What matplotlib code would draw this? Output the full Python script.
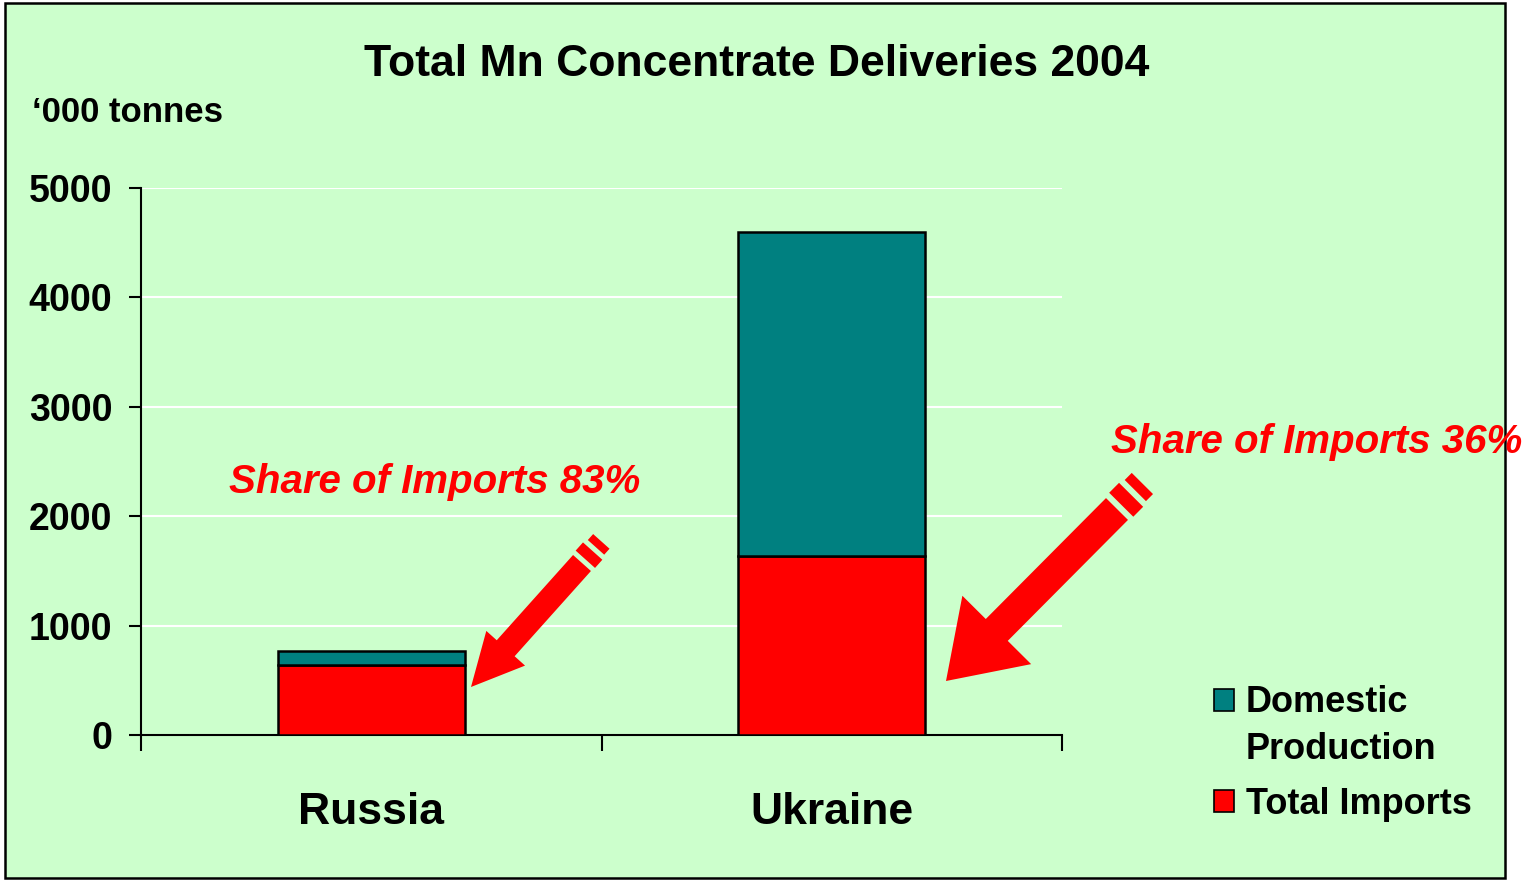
# Total Mn concentrate deliveries 2004, stacked bars with fat arrows
import numpy as np
import matplotlib.pyplot as plt
from matplotlib.patches import Polygon, Rectangle

countries = ['Russia', 'Ukraine']
imports = [640, 1640]
domestic = [130, 2960]
import_share = ['83%', '36%']
yticks = [0, 1000, 2000, 3000, 4000, 5000]

bg = '#CCFFCC'
teal = '#008080'
red = '#FF0000'
W, H = 1527, 880

plt.rcParams['font.family'] = ['Liberation Sans', 'DejaVu Sans']
plt.rcParams['font.weight'] = 'bold'

fig = plt.figure(figsize=(W / 100, H / 100), dpi=100, facecolor='white')

def fx(px):
  return px / W

def fy(py):
  return 1 - py / H

# chart area background + border
fig.patches.append(Rectangle((fx(5), fy(878)), fx(1505) - fx(5), fy(3) - fy(878),
                             transform=fig.transFigure, facecolor=bg, edgecolor='black',
                             linewidth=1.8, zorder=-5))

ax = fig.add_axes([fx(141), fy(735), fx(1062) - fx(141), fy(188) - fy(735)])
ax.set_zorder(1)
ax.patch.set_alpha(0)

x = np.arange(len(countries))
bw = 0.406
ax.bar(x, imports, bw, color=red, edgecolor='black', linewidth=1.8, zorder=3)
ax.bar(x, domestic, bw, bottom=imports, color=teal, edgecolor='black', linewidth=1.8, zorder=3)

ax.set_xlim(-0.5, 1.5)
ax.set_ylim(0, 5000)
ax.set_yticks(yticks)
ax.set_yticklabels([str(v) for v in yticks], fontsize=27, fontweight='bold')
ax.yaxis.grid(True, color='white', linewidth=1.5, zorder=0)
ax.set_axisbelow(True)

# category boundaries as major ticks, names as minor ticks
ax.set_xticks([-0.5, 0.5, 1.5])
ax.set_xticklabels([])
ax.set_xticks(x, minor=True)
ax.set_xticklabels(countries, minor=True, fontsize=32, fontweight='bold')
ax.tick_params(axis='x', which='major', length=11.5, width=1.5, direction='out')
ax.tick_params(axis='x', which='minor', length=0, pad=41)
ax.tick_params(axis='y', length=8.6, width=1.5, direction='out', pad=12)

for s in ['top', 'right']:
  ax.spines[s].set_visible(False)
for s in ['left', 'bottom']:
  ax.spines[s].set_linewidth(1.5)

fig.text(fx(757), fy(64), 'Total Mn Concentrate Deliveries 2004', fontsize=32,
         fontweight='bold', ha='center', va='center')
fig.text(fx(32), fy(113), '\u2018000 tonnes', fontsize=25, fontweight='bold',
         ha='left', va='center')

# share annotations
fig.text(fx(435), fy(482), 'Share of Imports ' + import_share[0], fontsize=29,
         fontweight='bold', style='italic', color=red, ha='center', va='center')
fig.text(fx(1317), fy(442), 'Share of Imports ' + import_share[1], fontsize=29,
         fontweight='bold', style='italic', color=red, ha='center', va='center')

def fat_arrow(tip, tail, body_w, head_w, head_l, stripes):
  # tip / tail in pixels (top-left origin); stripes = list of (gap, thickness, width)
  tip = np.array(tip, float)
  tail = np.array(tail, float)
  d = tail - tip
  L = np.hypot(*d)
  u = d / L
  n = np.array([-u[1], u[0]])
  pts = [tip,
         tip + u * head_l + n * head_w / 2,
         tip + u * head_l + n * body_w / 2,
         tail + n * body_w / 2,
         tail - n * body_w / 2,
         tip + u * head_l - n * body_w / 2,
         tip + u * head_l - n * head_w / 2]
  polys = [pts]
  pos = L
  for gap, th, w in stripes:
    a = tip + u * (pos + gap)
    b = tip + u * (pos + gap + th)
    polys.append([a + n * w / 2, b + n * w / 2, b - n * w / 2, a - n * w / 2])
    pos += gap + th
  for p in polys:
    xy = [(fx(q[0]), fy(q[1])) for q in p]
    fig.patches.append(Polygon(xy, closed=True, transform=fig.transFigure,
                               facecolor=red, edgecolor='none', zorder=5))

fat_arrow((471, 687), (582, 563), 24, 52, 52, [(5, 11, 26), (5, 8, 22)])
fat_arrow((946, 681), (1117, 509), 31, 97, 72, [(6, 14, 34), (6, 10, 30)])

# legend
leg = [(['Domestic', 'Production'], teal, 700), (['Total Imports'], red, 801)]
for lines, c, py in leg:
  fig.patches.append(Rectangle((fx(1214), fy(py + 11)), fx(20), 22 / H,
                               transform=fig.transFigure, facecolor=c,
                               edgecolor='black', linewidth=1.2, zorder=5))
  for k, line in enumerate(lines):
    fig.text(fx(1246), fy(py + 3 + 46 * k), line, fontsize=26, fontweight='bold',
             ha='left', va='center')

plt.savefig('out.png', dpi=100, facecolor='white')
